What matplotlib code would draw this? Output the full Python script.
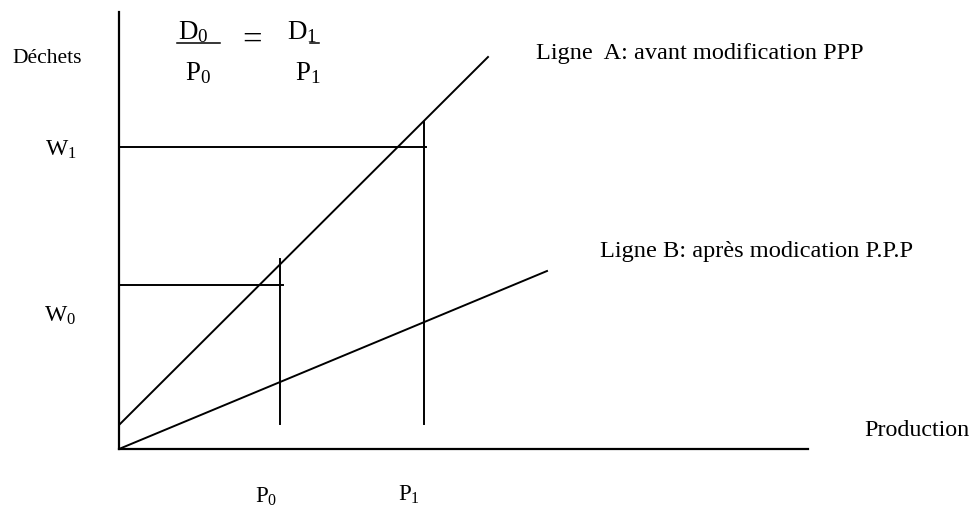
import matplotlib
matplotlib.use("Agg")
import matplotlib.pyplot as plt

x_max = 689
y_max = 437
ligne_a_x = [0, 369]
ligne_a_y = [24, 392]
ligne_b_x = [0, 428]
ligne_b_y = [0, 178]
p_values = [161, 305]          # P0, P1
p_tops = [190, 327]            # where the vertical guides stop
p_bottom = 25
w_line_y = [302, 164]          # W1 guide, lower guide
w_line_end = [307, 164]

ORIGIN = (119, 449)


def px(x, y):
    # pixel position in the picture -> data coords
    return x - ORIGIN[0], ORIGIN[1] - y


plt.rcParams['font.family'] = ['Liberation Serif', 'DejaVu Serif']
plt.rcParams['mathtext.fontset'] = 'custom'
plt.rcParams['mathtext.rm'] = 'Liberation Serif'
plt.rcParams['mathtext.it'] = 'Liberation Serif:italic'

fig = plt.figure(figsize=(9.72, 5.07), dpi=100)
ax = fig.add_axes([119 / 972, 58 / 507, x_max / 972, y_max / 507])
ax.set_xlim(0, x_max)
ax.set_ylim(0, y_max)
for s in ['top', 'right']:
    ax.spines[s].set_visible(False)
for s in ['left', 'bottom']:
    ax.spines[s].set_linewidth(1.6)
ax.set_xticks([])
ax.set_yticks([])

lw = 1.4
ax.plot(ligne_a_x, ligne_a_y, 'k-', lw=lw)
ax.plot(ligne_b_x, ligne_b_y, 'k-', lw=lw)
for p, top in zip(p_values, p_tops):
    ax.plot([p, p], [p_bottom, top], 'k-', lw=lw)
for w, end in zip(w_line_y, w_line_end):
    ax.plot([0, end], [w, w], 'k-', lw=lw)

def label(x, y, s, size, **kw):
    ax.text(*px(x, y), s, fontsize=size, ha='left', va='baseline',
            clip_on=False, **kw)

label(12, 63, 'Déchets', 15.5)
label(45, 156, r'$\mathrm{W}_1$', 17)
label(44, 322, r'$\mathrm{W}_0$', 17)
label(536, 59, 'Ligne  A: avant modification PPP', 17.5)
label(600, 257, 'Ligne B: après modication P.P.P', 17.6)
label(864, 436, 'Production', 17.3)
label(255, 503, r'$\mathrm{P}_0$', 16.5)
label(398, 501, r'$\mathrm{P}_1$', 16.5)

# the ratio D0/P0 = D1/P1
label(178, 39, r'$\mathrm{D}_0$', 19.5)
label(287, 39, r'$\mathrm{D}_1$', 19.5)
label(185, 80, r'$\mathrm{P}_0$', 19.5)
label(295, 80, r'$\mathrm{P}_1$', 19.5)
ax.text(*px(242, 41), '=', fontsize=25, ha='left', va='center', clip_on=False)
for x0, x1 in [(177, 220), (310, 319)]:
    (a, y), (b, _) = px(x0, 42.5), px(x1, 42.5)
    ax.plot([a, b], [y, y], 'k-', lw=1.1, clip_on=False)

fig.savefig("out.png", dpi=100)
